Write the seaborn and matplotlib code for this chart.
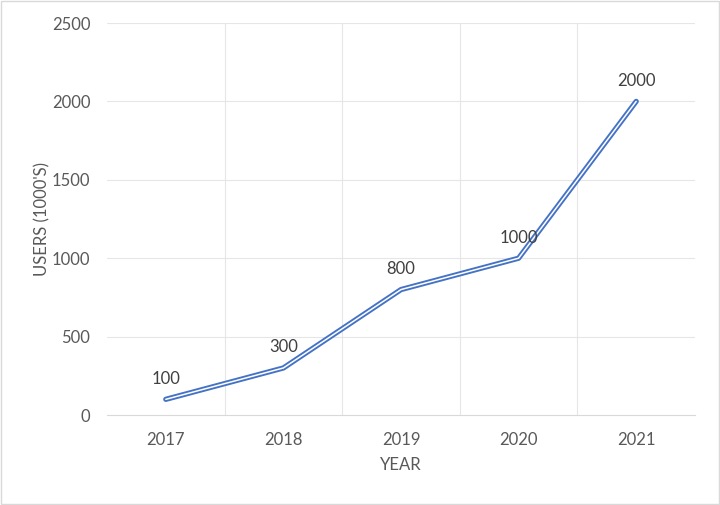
import matplotlib
matplotlib.use("Agg")
import matplotlib.pyplot as plt
import seaborn as sns
import pandas as pd
from matplotlib.patches import Rectangle

years = ["2017", "2018", "2019", "2020", "2021"]
users = [100, 300, 800, 1000, 2000]
yticks = [0, 500, 1000, 1500, 2000, 2500]

sns.set_theme(style="white")
plt.rcParams['font.family'] = ['Lato', 'DejaVu Sans']

df = pd.DataFrame({"year": years, "users": users})
df["pos"] = range(len(years))

fig = plt.figure(figsize=(7.2, 5.05), dpi=100)
ax = fig.add_axes([107/720, 1-415/505, (695-107)/720, (415-23)/505])

blue = "#4472C4"
gray = "#595959"
sns.lineplot(data=df, x="pos", y="users", ax=ax, color=blue, linewidth=3.8, sort=False)
sns.lineplot(data=df, x="pos", y="users", ax=ax, color="white", linewidth=1.1, sort=False)

for x, y in zip(df["pos"], df["users"]):
    ax.annotate(str(y), (x, y), xytext=(0, 9), textcoords="offset points",
                ha="center", va="bottom", fontsize=12, color="#404040")

ax.set_xlim(-0.5, len(years) - 0.5)
ax.set_ylim(0, 2500)
ax.set_yticks(yticks)
ax.set_yticklabels([str(t) for t in yticks])
ax.set_xticks(range(len(years)))
ax.set_xticklabels(years)
ax.tick_params(axis="both", length=0, labelsize=12, colors=gray)
ax.tick_params(axis="x", pad=12)
ax.tick_params(axis="y", pad=12)

# gridlines
for t in yticks[1:]:
    ax.axhline(t, color="#E6E6E6", linewidth=0.8, zorder=0)
for b in range(1, len(years)):
    ax.axvline(b - 0.5, color="#E6E6E6", linewidth=0.8, zorder=0)

for s in ["top", "right", "left"]:
    ax.spines[s].set_visible(False)
ax.spines["bottom"].set_color("#D9D9D9")
ax.spines["bottom"].set_linewidth(0.8)

ax.set_xlabel("YEAR", fontsize=12, color=gray, labelpad=7)
ax.set_ylabel("USERS (1000'S)", fontsize=12, color=gray, labelpad=1)

fig.patches.append(Rectangle((0.001, 0.001), 0.997, 0.997, transform=fig.transFigure,
                             fill=False, edgecolor="#D9D9D9", linewidth=1))

fig.savefig("out.png", dpi=100)
